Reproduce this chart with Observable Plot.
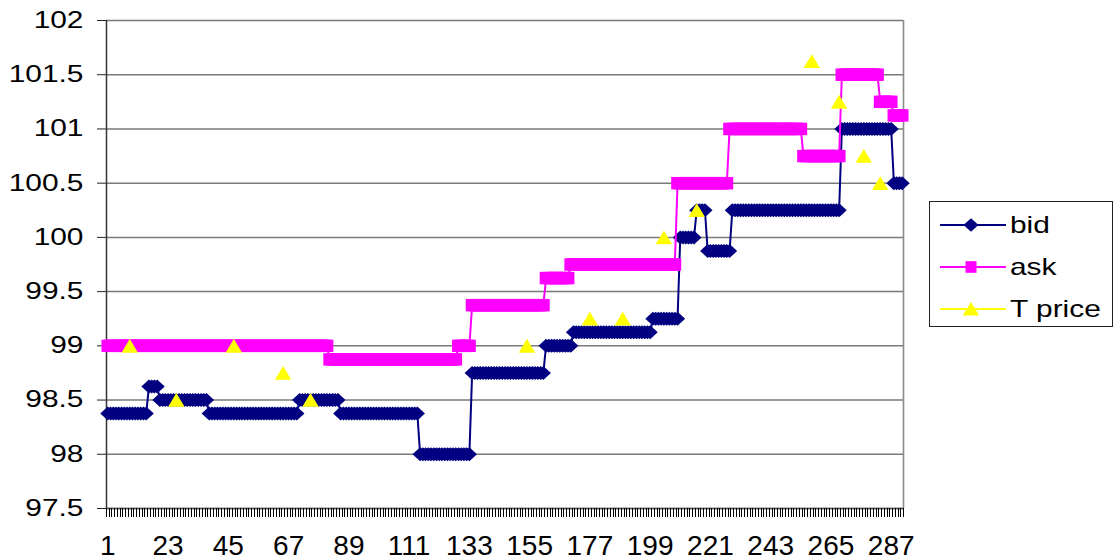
<!DOCTYPE html>
<html>
<head>
<meta charset="utf-8">
<script src="https://cdn.jsdelivr.net/npm/d3@7"></script>
<script src="https://cdn.jsdelivr.net/npm/@observablehq/plot@0.6"></script>
<style>
  html, body { margin: 0; padding: 0; background: #fff; }
  #wrap { position: relative; width: 1113px; height: 560px; overflow: hidden; }
  #legend { position: absolute; left: 929px; top: 201px; }
  text { font-family: "Liberation Sans", Arial, sans-serif; }
</style>
</head>
<body>
<div id="wrap"></div>
<script>
// ---- data ----
const nPoints = 291;                       // categories 1..291
const xTickLabels = [1, 23, 45, 67, 89, 111, 133, 155, 177, 199, 221, 243, 265, 287];
const yTicks = [97.5, 98, 98.5, 99, 99.5, 100, 100.5, 101, 101.5, 102];

// bid: value held from previous end+1 up to the given last category
const bidLevels  = [98.375, 98.625, 98.5, 98.375, 98.5, 98.375, 98.0, 98.75, 99.0, 99.125, 99.25, 100.0, 100.25, 99.875, 100.25, 101.0, 100.5];
const bidLastCat = [15,     19,     37,   70,     85,   114,    133,  160,   170,  199,    209,   215,   219,    228,    268,    287,   291];

// ask
const askLevels  = [99.0, 98.875, 99.0, 99.375, 99.625, 99.75, 100.5, 101.0, 100.75, 101.5, 101.25, 101.125];
const askLastCat = [81,   128,    133,  160,    169,    208,   227,   254,   268,    282,   287,    291];

// T price (only at a few categories)
const tCat   = [9, 26, 47, 65, 75, 154, 177, 189, 204, 216, 258, 268, 277, 283];
const tPrice = [99.0, 98.5, 99.0, 98.75, 98.5, 99.0, 99.25, 99.25, 100.0, 100.25, 101.625, 101.25, 100.75, 100.5];

// ---- build tables ----
function expand(levels, ends) {
  const out = []; let start = 1;
  levels.forEach((v, k) => { for (let i = start; i <= ends[k]; i++) out.push({i, v}); start = ends[k] + 1; });
  return out;
}
const bid = expand(bidLevels, bidLastCat);
const ask = expand(askLevels, askLastCat);
const tp = tCat.map((i, k) => ({i, v: tPrice[k]}));
const boundaries = d3.range(0, nPoints + 1).map(k => k + 0.5);

// custom Excel-like marker shapes
const diamondSym = { draw(ctx) { ctx.moveTo(0, -7); ctx.lineTo(7.6, 0); ctx.lineTo(0, 7); ctx.lineTo(-7.6, 0); ctx.closePath(); } };
const squareSym  = { draw(ctx) { ctx.moveTo(-6.4, -6.2); ctx.lineTo(6.4, -6.2); ctx.lineTo(6.4, 6.2); ctx.lineTo(-6.4, 6.2); ctx.closePath(); } };
const triSym     = { draw(ctx) { ctx.moveTo(0, -7); ctx.lineTo(8.2, 6.8); ctx.lineTo(-8.2, 6.8); ctx.closePath(); } };

const NAVY = "#000080", MAG = "#FF00FF", YEL = "#FFFF00";

const chart = Plot.plot({
  width: 1113,
  height: 560,
  marginTop: 20,
  marginBottom: 52,
  marginLeft: 106,
  marginRight: 210,
  style: { background: "white", color: "black", fontFamily: "'Liberation Sans', Arial, sans-serif", overflow: "visible" },
  x: { type: "linear", domain: [0.5, nPoints + 0.5] },
  y: { type: "linear", domain: [97.5, 102] },
  marks: [
    Plot.gridY(yTicks, { stroke: "#7a7a7a", strokeOpacity: 1, strokeWidth: 1.5 }),
    Plot.ruleX([nPoints + 0.5], { stroke: "#8a8a8a", strokeWidth: 1.6 }),
    Plot.ruleY([97.5], { stroke: "#555", strokeWidth: 1.4 }),
    Plot.axisY(yTicks, { anchor: "left", tickSize: 9, tickPadding: 14, fontSize: 23, label: null, tickFormat: d => String(d), stroke: "#222" }),
    Plot.axisX(boundaries, { anchor: "bottom", tickSize: 9, tickFormat: () => "", label: null, stroke: "#000", strokeWidth: 1, shapeRendering: "crispEdges" }),
    Plot.axisX(xTickLabels, { anchor: "bottom", tickSize: 0, tickPadding: 27, fontSize: 28, label: null, tickFormat: d => String(d) }),
    Plot.ruleX([0.5], { stroke: "#333", strokeWidth: 1.5 }),
    Plot.line(bid, { x: "i", y: "v", stroke: NAVY, strokeWidth: 2 }),
    Plot.dot(bid, { x: "i", y: "v", symbol: diamondSym, fill: NAVY, r: 5 }),
    Plot.line(ask, { x: "i", y: "v", stroke: MAG, strokeWidth: 2 }),
    Plot.dot(ask, { x: "i", y: "v", symbol: squareSym, fill: MAG, r: 5 }),
    Plot.dot(tp, { x: "i", y: "v", symbol: triSym, fill: YEL, r: 5 })
  ]
});

const wrap = document.getElementById("wrap");
wrap.appendChild(chart);

// Horizontally stretch the y tick labels like the original
function stretch(root, selector, s) {
  root.querySelectorAll(selector).forEach(t => {
    const b = t.getBBox();
    const anchor = getComputedStyle(t).textAnchor;
    const ax = anchor === "end" ? b.x + b.width : anchor === "middle" ? b.x + b.width / 2 : b.x;
    const tr = t.getAttribute("transform") || "";
    t.setAttribute("transform", `${tr} translate(${ax},0) scale(${s},1) translate(${-ax},0)`);
  });
}
stretch(chart, 'g[aria-label="y-axis tick label"] text', 1.3);

// Legend
const legendItems = [
  { name: "bid", color: NAVY, sym: "diamond" },
  { name: "ask", color: MAG, sym: "square" },
  { name: "T price", color: YEL, sym: "triangle" }
];
const ns = "http://www.w3.org/2000/svg";
const lg = document.createElementNS(ns, "svg");
lg.setAttribute("id", "legend");
lg.setAttribute("width", 184);
lg.setAttribute("height", 127);
lg.innerHTML = `<rect x="0.5" y="0.5" width="183" height="125" fill="white" stroke="#222" stroke-width="1"/>`;
legendItems.forEach((d, k) => {
  const ly = 24 + k * 42;
  const g = document.createElementNS(ns, "g");
  let shape;
  if (d.sym === "diamond") shape = `<path d="M42,${ly - 6.8}L49.5,${ly}L42,${ly + 6.8}L34.5,${ly}Z" fill="${d.color}"/>`;
  else if (d.sym === "square") shape = `<rect x="36.5" y="${ly - 5.8}" width="11" height="11.6" fill="${d.color}"/>`;
  else shape = `<path d="M42,${ly - 7}L50.3,${ly + 6.5}L33.7,${ly + 6.5}Z" fill="${d.color}"/>`;
  g.innerHTML = `<line x1="11" x2="77" y1="${ly}" y2="${ly}" stroke="${d.color}" stroke-width="2"/>` + shape +
    `<text transform="translate(81,${ly + 7.5}) scale(1.3,1)" font-size="23" fill="black">${d.name}</text>`;
  lg.appendChild(g);
});
wrap.appendChild(lg);
</script>
</body>
</html>
